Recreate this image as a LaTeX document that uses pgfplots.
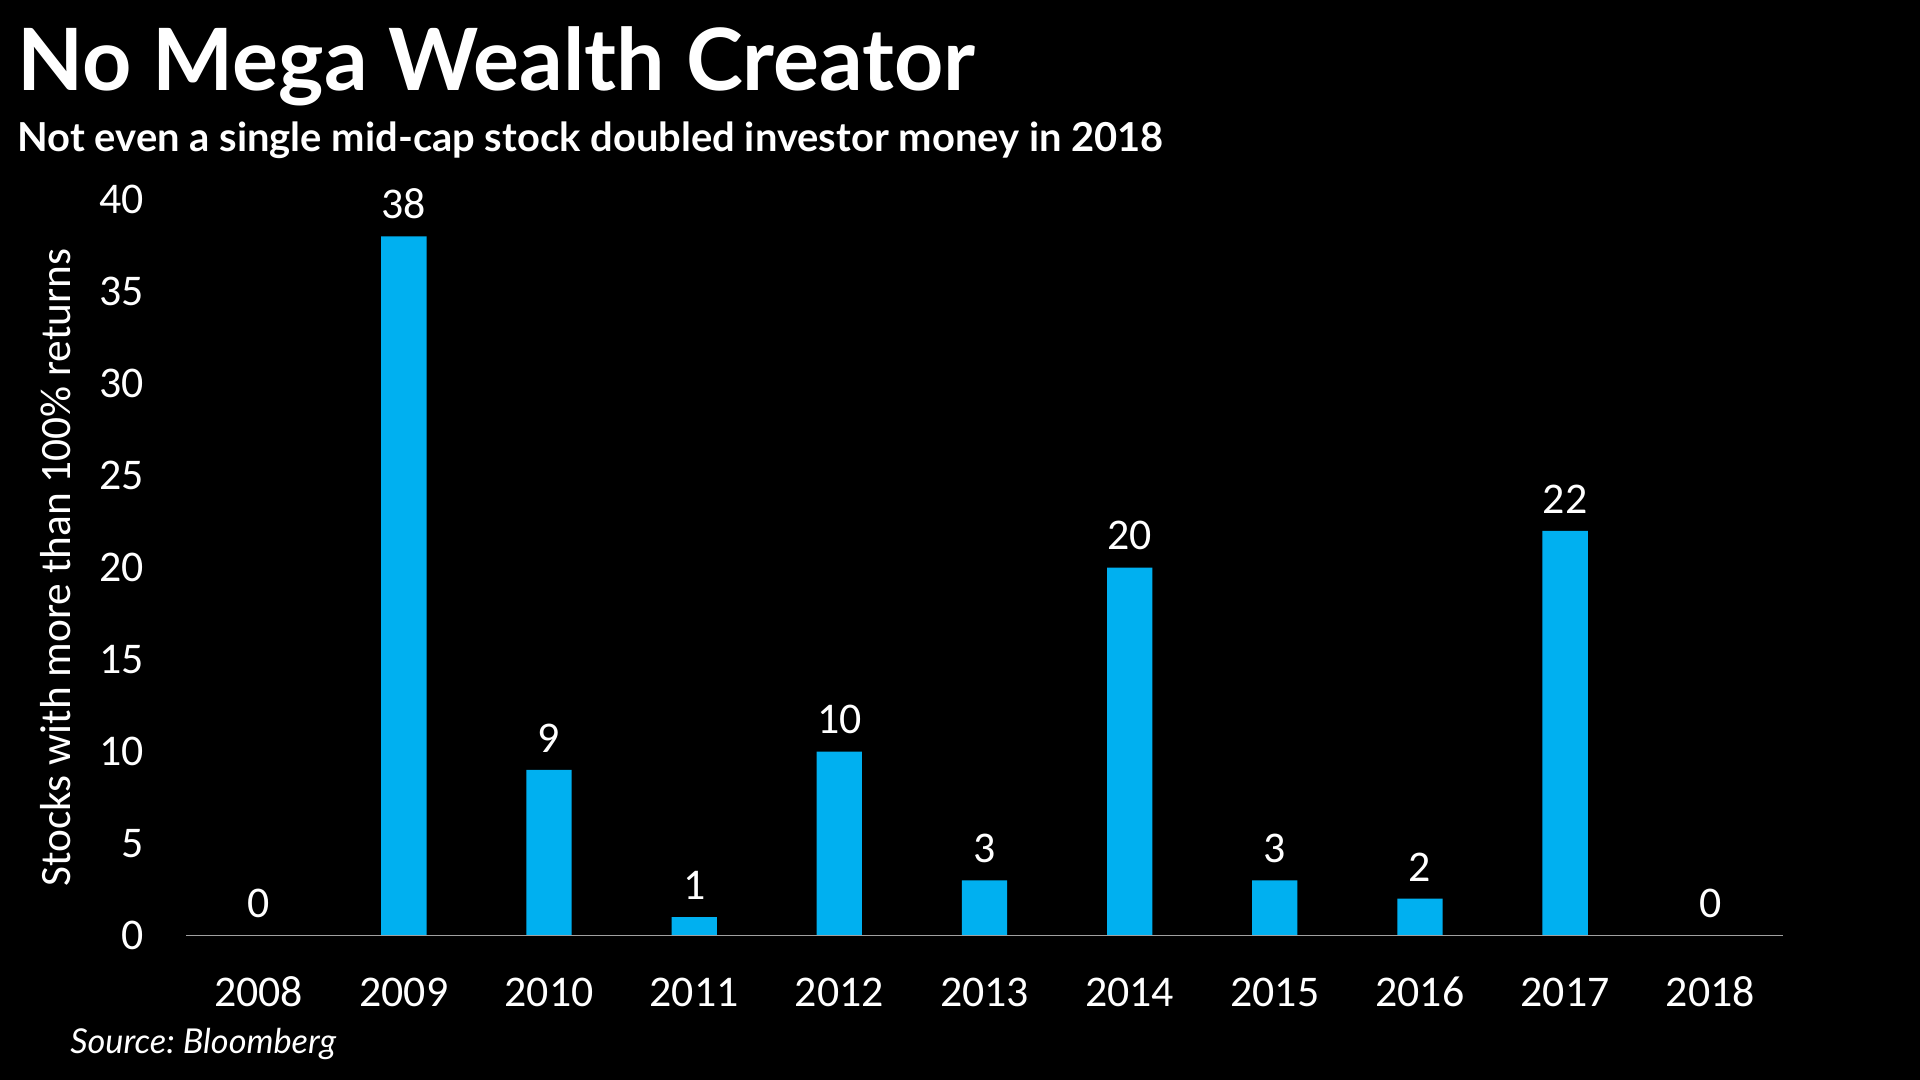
\documentclass[border=0pt]{standalone}
\usepackage{pgfplots}
\pgfplotsset{compat=1.18}
\usepackage{fontspec}
\setmainfont{Carlito}[Numbers=Lining]
\newfontfamily\latob{Lato}[UprightFont=* Bold, Numbers=Lining]
\newfontfamily\latoi{Lato}[UprightFont=* Italic]
\definecolor{barblue}{HTML}{00B0F0}
\definecolor{axgray}{HTML}{A0A0A0}
\frenchspacing
\begin{document}
\begin{tikzpicture}
\fill[black] (0,0) rectangle (784pt,441pt);
\node[anchor=base west,inner sep=0pt,text=white] at (7pt,404pt) {\fontsize{35.1}{40}\selectfont\latob No Mega Wealth Creator};
\node[anchor=base west,inner sep=0pt,text=white] at (7pt,379pt) {\fontsize{16.3}{20}\selectfont\latob Not even a single mid-cap stock doubled investor money in 2018};
\node[anchor=base west,inner sep=0pt,text=white] at (28.5pt,11pt) {\fontsize{14}{16}\selectfont\latoi Source: Bloomberg};
\begin{axis}[
  at={(76pt,59pt)}, anchor=south west,
  scale only axis, width=652pt, height=300.5pt,
  xmin=-0.5, xmax=10.5, ymin=0, ymax=40,
  ybar, bar width=18.5pt,
  axis line style={draw=none},
  xtick={0,...,10},
  xticklabels={2008,2009,2010,2011,2012,2013,2014,2015,2016,2017,2018},
  ytick={0,5,...,40},
  major tick length=0pt,
  tick label style={font=\fontsize{17.9}{20}\selectfont, text=white},
  /pgf/number format/assume math mode=true,
  xticklabel style={inner sep=0pt, anchor=base, yshift=-29pt},
  yticklabel style={inner sep=0pt, anchor=base east, xshift=-17pt, yshift=-5.6pt},
  ylabel={Stocks with more than 100\% returns},
  ylabel style={font=\fontsize{17.7}{20}\selectfont, text=white, at={(axis description cs:-0.082,0.5)}, anchor=center, rotate=0},
  nodes near coords,
  every node near coord/.append style={font=\fontsize{17.9}{20}\selectfont, text=white, inner sep=0pt, anchor=base, yshift=7.2pt},
  clip=false,
]
\addplot[fill=barblue, draw=none] coordinates {(0,0) (1,38) (2,9) (3,1) (4,10) (5,3) (6,20) (7,3) (8,2) (9,22) (10,0)};
\draw[axgray, line width=0.75pt] (axis cs:-0.5,0) -- (axis cs:10.5,0);
\end{axis}
\end{tikzpicture}
\end{document}
